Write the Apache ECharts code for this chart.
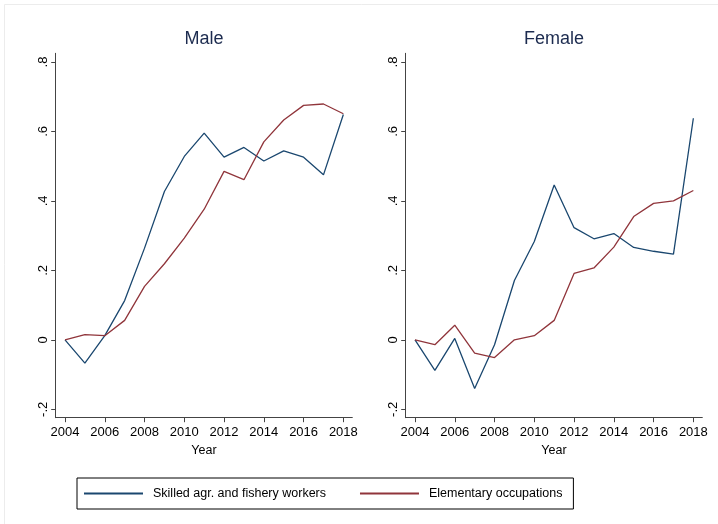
<!DOCTYPE html>
<html>
<head>
<meta charset="utf-8">
<script src="https://cdn.jsdelivr.net/npm/echarts@6/dist/echarts.min.js"></script>
<style>
  html, body { margin: 0; padding: 0; background: #fff; }
  #main { width: 718px; height: 524px; }
</style>
</head>
<body>
<div id="main"></div>
<script>
const years = [2004, 2005, 2006, 2007, 2008, 2009, 2010, 2011, 2012, 2013, 2014, 2015, 2016, 2017, 2018];
const yearTicks = [2004, 2006, 2008, 2010, 2012, 2014, 2016, 2018];
const valueTicks = [-0.2, 0, 0.2, 0.4, 0.6, 0.8];

// Male
const maleSkilled = [0, -0.067, 0.012, 0.113, 0.264, 0.427, 0.528, 0.595, 0.526, 0.554, 0.515, 0.544, 0.526, 0.475, 0.649];
const maleElementary = [0, 0.015, 0.012, 0.056, 0.154, 0.219, 0.293, 0.376, 0.485, 0.461, 0.570, 0.633, 0.675, 0.679, 0.651];
// Female
const femaleSkilled = [0, -0.088, 0.004, -0.140, -0.014, 0.171, 0.283, 0.446, 0.323, 0.291, 0.306, 0.266, 0.255, 0.247, 0.638];
const femaleElementary = [0, -0.014, 0.042, -0.038, -0.051, 0.0, 0.012, 0.056, 0.191, 0.207, 0.267, 0.355, 0.393, 0.400, 0.430];

const BLUE = '#1a476f';
const RED = '#90353b';
const FONT = '"Liberation Sans", Arial, Helvetica, sans-serif';

const pairs = vals => years.map((y, i) => [y, vals[i]]);
const fmtY = v => (Math.abs(v) < 1e-9 ? '0' : v.toFixed(1).replace('0.', '.'));

const chart = echarts.init(document.getElementById('main'));

const grids = [
  { left: 55.7, top: 53.3, width: 296.6, height: 364.4 },
  { left: 405.7, top: 53.3, width: 296.6, height: 364.4 }
];

const xAxisFor = idx => ({
  type: 'value',
  gridIndex: idx,
  min: 2003.532,
  max: 2018.45,
  name: 'Year',
  nameLocation: 'middle',
  nameGap: 23,
  nameTextStyle: { fontFamily: FONT, fontSize: 12.5, color: '#000' },
  axisLine: { show: true, onZero: false, lineStyle: { color: '#444', width: 1 } },
  axisTick: { show: true, length: 4.5, lineStyle: { color: '#444' }, customValues: yearTicks },
  axisLabel: {
    customValues: yearTicks,
    formatter: v => String(v),
    margin: 8,
    fontFamily: FONT, fontSize: 13, color: '#000'
  },
  splitLine: { show: false }
});

const yAxisFor = idx => ({
  type: 'value',
  gridIndex: idx,
  min: -0.2242,
  max: 0.825,
  axisLine: { show: true, onZero: false, lineStyle: { color: '#444', width: 1 } },
  axisTick: { show: true, length: 4.5, lineStyle: { color: '#444' }, customValues: valueTicks },
  axisLabel: {
    customValues: valueTicks,
    formatter: fmtY,
    rotate: 90,
    margin: 5.5,
    fontFamily: FONT, fontSize: 13, color: '#000'
  },
  splitLine: { show: false }
});

const lineSeries = (name, vals, color, idx) => ({
  name,
  type: 'line',
  xAxisIndex: idx,
  yAxisIndex: idx,
  data: pairs(vals),
  symbol: 'none',
  lineStyle: { color, width: 1.3 },
  itemStyle: { color },
  animation: false
});

chart.setOption({
  backgroundColor: '#fff',
  animation: false,
  title: [
    { text: 'Male', left: 204, top: 30, textAlign: 'center', padding: 0,
      textStyle: { fontFamily: FONT, fontSize: 18, fontWeight: 'normal', color: '#1c2b4f' } },
    { text: 'Female', left: 554, top: 30, textAlign: 'center', padding: 0,
      textStyle: { fontFamily: FONT, fontSize: 18, fontWeight: 'normal', color: '#1c2b4f' } }
  ],
  legend: {
    left: 77,
    top: 478,
    padding: [9, 11, 9, 6],
    itemGap: 33,
    itemWidth: 59,
    itemHeight: 14,
    borderColor: '#000',
    borderWidth: 1,
    itemStyle: { opacity: 0 },
    data: ['Skilled agr. and fishery workers', 'Elementary occupations'],
    textStyle: { fontFamily: FONT, fontSize: 12.5, color: '#000', padding: [0, 0, 0, 5] }
  },
  graphic: [
    { type: 'rect', shape: { x: 4.5, y: 4.5, width: 720, height: 600 }, style: { fill: 'none', stroke: '#ececec', lineWidth: 1 }, silent: true }
  ],
  grid: grids,
  xAxis: [xAxisFor(0), xAxisFor(1)],
  yAxis: [yAxisFor(0), yAxisFor(1)],
  series: [
    lineSeries('Skilled agr. and fishery workers', maleSkilled, BLUE, 0),
    lineSeries('Elementary occupations', maleElementary, RED, 0),
    lineSeries('Skilled agr. and fishery workers', femaleSkilled, BLUE, 1),
    lineSeries('Elementary occupations', femaleElementary, RED, 1)
  ]
});
</script>
</body>
</html>
